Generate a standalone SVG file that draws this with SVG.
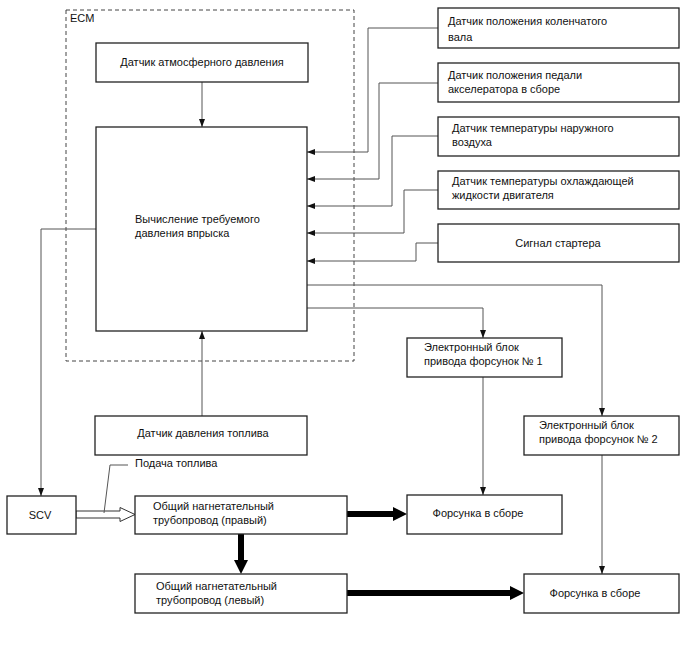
<svg xmlns="http://www.w3.org/2000/svg" width="688" height="658" viewBox="0 0 688 658">
<style>
.box{fill:#fff;stroke:#222;stroke-width:1.3}
.t{font-family:"Liberation Sans",Arial,sans-serif;font-size:11px;fill:#111}
.c{text-anchor:middle}
.ln{fill:none;stroke:#555;stroke-width:1}
.thick{fill:none;stroke:#000;stroke-width:6}
</style>
<defs>
<marker id="arr" markerUnits="userSpaceOnUse" markerWidth="8" markerHeight="6" refX="8" refY="3" orient="auto">
<path d="M0,0 L8,3 L0,6 z" fill="#111"/>
</marker>
<marker id="big" markerUnits="userSpaceOnUse" markerWidth="14" markerHeight="14" refX="0" refY="7" orient="auto">
<path d="M0,0 L14,7 L0,14 z" fill="#000"/>
</marker>
</defs>
<rect x="66" y="10" width="288" height="351" fill="none" stroke="#444" stroke-width="1" stroke-dasharray="4,3"/>
<text class="t" x="70" y="22">ECM</text>
<g id="connectors">
<path class="ln" d="M202,82 V127" marker-end="url(#arr)"/>
<path class="ln" d="M438,28 H368 V152 H307" marker-end="url(#arr)"/>
<path class="ln" d="M438,83 H379 V179 H307" marker-end="url(#arr)"/>
<path class="ln" d="M438,136 H392 V206 H307" marker-end="url(#arr)"/>
<path class="ln" d="M438,190 H404 V233 H307" marker-end="url(#arr)"/>
<path class="ln" d="M438,243 H416 V261 H307" marker-end="url(#arr)"/>
<path class="ln" d="M307,285 H602 V416" marker-end="url(#arr)"/>
<path class="ln" d="M307,308 H483 V338" marker-end="url(#arr)"/>
<path class="ln" d="M483,377 V495" marker-end="url(#arr)"/>
<path class="ln" d="M602,455 V574" marker-end="url(#arr)"/>
<path class="ln" d="M96,229 H41 V496" marker-end="url(#arr)"/>
<path class="ln" d="M202,416 V331" marker-end="url(#arr)"/>
<path class="thick" d="M347,514 H393" marker-end="url(#big)"/>
<path class="thick" d="M347,593 H510" marker-end="url(#big)"/>
<path class="thick" d="M241,534 V560" marker-end="url(#big)"/>
<path d="M76,511 H120 V507.5 L135,514.5 L120,521.5 V518 H76 z" fill="#fff" stroke="#333" stroke-width="1"/>
<path class="ln" d="M128,465 H110 L104,513"/>
</g>
<g id="atm"><rect class="box" x="96" y="43" width="212" height="39"/><text class="t c" x="202" y="66">Датчик атмосферного давления</text></g>
<g id="calc"><rect class="box" x="96" y="127" width="211" height="204"/><text class="t" x="135" y="223">Вычисление требуемого</text><text class="t" x="135" y="237">давления впрыска</text></g>
<g id="crank"><rect class="box" x="438" y="8" width="241" height="40"/><text class="t" x="448" y="25">Датчик положения коленчатого</text><text class="t" x="448" y="41">вала</text></g>
<g id="pedal"><rect class="box" x="438" y="63" width="241" height="39"/><text class="t" x="448" y="79">Датчик положения педали</text><text class="t" x="448" y="93">акселератора в сборе</text></g>
<g id="air"><rect class="box" x="438" y="117" width="241" height="39"/><text class="t" x="452" y="132">Датчик температуры наружного</text><text class="t" x="452" y="146">воздуха</text></g>
<g id="cool"><rect class="box" x="438" y="171" width="241" height="38"/><text class="t" x="452" y="185">Датчик температуры охлаждающей</text><text class="t" x="452" y="199">жидкости двигателя</text></g>
<g id="starter"><rect class="box" x="438" y="224" width="241" height="38"/><text class="t c" x="558" y="247">Сигнал стартера</text></g>
<g id="drv1"><rect class="box" x="407" y="338" width="155" height="39"/><text class="t" x="424" y="351">Электронный блок</text><text class="t" x="424" y="365">привода форсунок № 1</text></g>
<g id="drv2"><rect class="box" x="524" y="416" width="155" height="39"/><text class="t" x="539" y="429">Электронный блок</text><text class="t" x="539" y="443">привода форсунок № 2</text></g>
<g id="fps"><rect class="box" x="95" y="416" width="212" height="39"/><text class="t c" x="203" y="437">Датчик давления топлива</text></g>
<g id="scv"><rect class="box" x="7" y="496" width="69" height="38"/><text class="t c" x="40" y="519">SCV</text></g>
<g id="railR"><rect class="box" x="135" y="496" width="212" height="38"/><text class="t" x="153" y="510">Общий нагнетательный</text><text class="t" x="153" y="524">трубопровод (правый)</text></g>
<g id="railL"><rect class="box" x="135" y="574" width="212" height="39"/><text class="t" x="156" y="590">Общий нагнетательный</text><text class="t" x="156" y="604">трубопровод (левый)</text></g>
<g id="inj1"><rect class="box" x="407" y="495" width="155" height="39"/><text class="t c" x="478" y="517">Форсунка в сборе</text></g>
<g id="inj2"><rect class="box" x="524" y="574" width="155" height="39"/><text class="t c" x="595" y="597">Форсунка в сборе</text></g>
<text class="t" x="135" y="467">Подача топлива</text>
</svg>
